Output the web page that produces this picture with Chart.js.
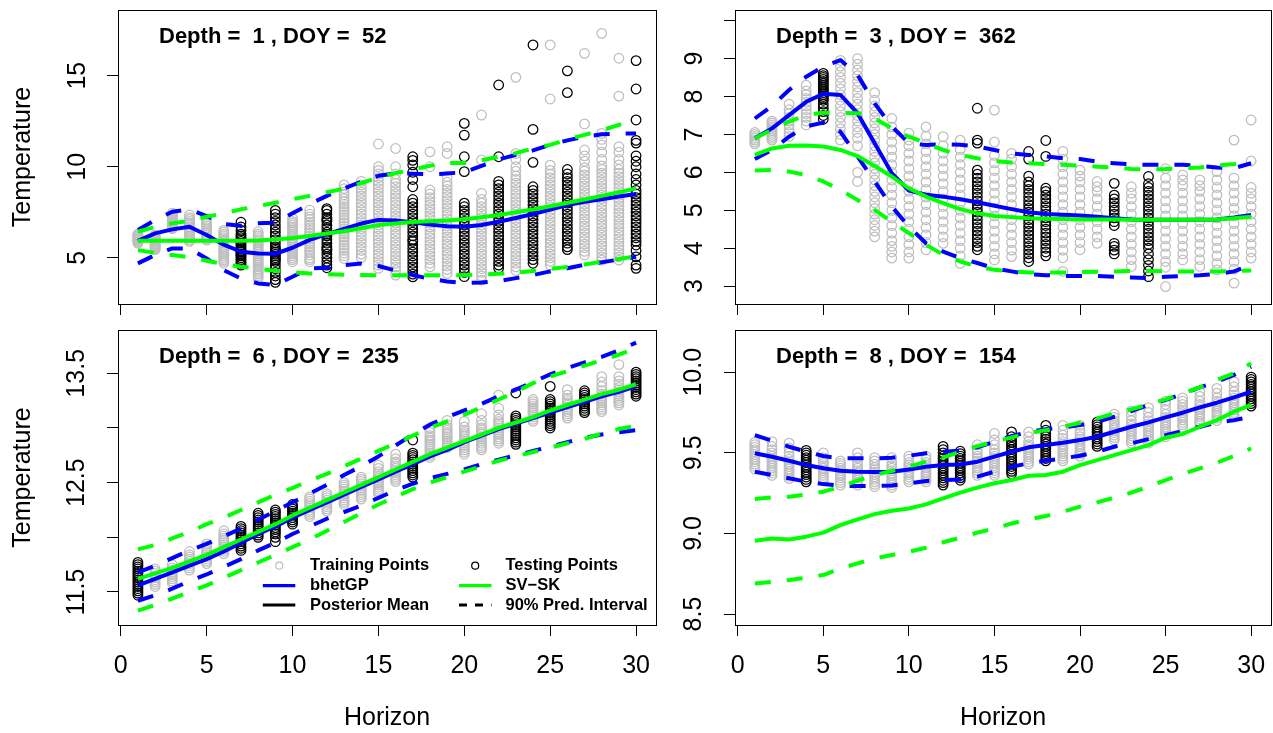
<!DOCTYPE html>
<html>
<head>
<meta charset="utf-8">
<script src="https://cdn.jsdelivr.net/npm/chart.js@4.4.1/dist/chart.umd.min.js"></script>
<style>
  html, body { margin: 0; padding: 0; background: #fff; }
  #wrap { position: relative; width: 1273px; height: 733px; overflow: hidden; background: #fff; }
  #wrap canvas { position: absolute; }
</style>
</head>
<body>
<div id="wrap">
  <canvas id="c1" width="662" height="318" style="left:0px;top:0px"></canvas>
  <canvas id="c2" width="611" height="318" style="left:662px;top:0px"></canvas>
  <canvas id="c3" width="662" height="415" style="left:0px;top:318px"></canvas>
  <canvas id="c4" width="611" height="415" style="left:662px;top:318px"></canvas>
</div>
<script>
// ---- shared axis data ----
const horizon = [1,2,3,4,5,6,7,8,9,10,11,12,13,14,15,16,17,18,19,20,21,22,23,24,25,26,27,28,29,30];
const xTicks = [0,5,10,15,20,25,30];
const xTickLabels = ['0','5','10','15','20','25','30'];
const legendLabels = ['Training Points','Testing Points','bhetGP','SV\u2212SK','Posterior Mean','90% Pred. Interval'];

// ---- panel 1: Depth 1, DOY 52 ----
const p1Title = 'Depth =  1 , DOY =  52';
const p1YTicks = [5,10,15];
const p1YLabels = ['5','10','15'];
const p1TrainH = [1,2,3,4,5,6,8,10,11,13,14,15,16,18,19,21,23,25,27,28,29];
const p1TrainY = [
  [5.8,5.85,5.9,5.95,6.0,6.05,6.1,6.15,6.2,6.25,6.3],
  [5.45,5.5,5.55,5.6,5.65,5.7,5.75,5.8,5.85,5.9,5.95,6.0,6.05,6.1,6.15,6.2,6.25],
  [6.6,6.65,6.7,6.75,6.8,6.85,6.9,6.95,7.0,7.05,7.1,7.15,7.2,7.25,7.3,7.35,7.45],
  [5.9,6.0,6.1,6.2,6.3,6.4,6.5,6.6,6.7,6.8,6.9,7.0,7.1,7.2,7.35],
  [5.97,6.05,6.15,6.25,6.35,6.45,6.55,6.65,6.75,6.85,6.95,7.07],
  [4.7,4.8,4.9,5.0,5.1,5.2,5.3,5.4,5.5,5.6,5.7,5.8,5.9,6.0,6.1,6.2,6.3,6.4,6.5],
  [3.86,4.0,4.1,4.2,4.3,4.4,4.5,4.6,4.7,4.8,4.9,5.0,5.1,5.2,5.3,5.4,5.5,5.6,5.7,5.8,5.9,6.0,6.1,6.2,6.3,6.43],
  [4.78,4.9,5.0,5.1,5.2,5.3,5.4,5.5,5.6,5.7,5.8,5.9,6.0,6.1,6.2,6.3,6.4,6.5,6.6,6.7,6.8,6.9,7.0,7.16],
  [4.78,4.9,5.0,5.15,5.3,5.45,5.6,5.75,5.9,6.05,6.2,6.35,6.5,6.65,6.8,6.95,7.1,7.25,7.4,7.62],
  [4.96,5.1,5.25,5.4,5.55,5.7,5.85,6.0,6.15,6.3,6.45,6.6,6.75,6.9,7.05,7.2,7.35,7.5,7.65,7.8,7.95,8.1,8.25,8.45,8.6,8.8,9.0],
  [5.0,5.2,5.4,5.6,5.8,6.0,6.2,6.4,6.6,6.8,7.0,7.2,7.4,7.6,7.8,8.0,8.2,8.4,8.6,8.8,9.0,9.2],
  [4.42,4.6,4.8,5.0,5.2,5.4,5.6,5.8,6.0,6.2,6.4,6.6,6.8,7.0,7.2,7.4,7.6,7.8,8.0,8.2,8.4,8.6,8.8,9.0,9.2,9.4,9.6,9.8,10.0,11.25],
  [4.05,4.3,4.5,4.7,4.9,5.1,5.3,5.5,5.7,5.9,6.1,6.3,6.5,6.7,6.9,7.1,7.3,7.5,7.7,7.9,8.1,8.3,8.5,8.7,8.9,9.1,9.3,9.6,10.0,11.0],
  [4.5,4.7,4.9,5.1,5.3,5.5,5.7,5.9,6.1,6.3,6.5,6.7,6.9,7.1,7.3,7.5,7.7,7.9,8.1,8.3,8.5,8.72,10.0,10.82],
  [4.14,4.35,4.55,4.75,4.95,5.15,5.35,5.55,5.75,5.95,6.15,6.35,6.55,6.75,6.95,7.15,7.35,7.55,7.75,7.95,8.15,8.35,8.55,8.75,8.95,9.15,9.45,10.73,11.1],
  [3.77,4.0,4.2,4.4,4.6,4.8,5.0,5.2,5.4,5.6,5.8,6.0,6.2,6.4,6.6,6.8,7.0,7.2,7.4,7.6,7.8,8.0,8.2,8.54,10.37,12.84],
  [4.3,4.5,4.7,4.9,5.1,5.3,5.5,5.7,5.9,6.1,6.3,6.5,6.7,6.9,7.1,7.3,7.5,7.7,7.9,8.1,8.3,8.5,8.7,8.9,9.1,9.3,9.5,9.75,10.0,10.4,10.73,14.91],
  [4.6,4.8,5.0,5.2,5.4,5.6,5.8,6.0,6.2,6.4,6.6,6.8,7.0,7.2,7.4,7.6,7.8,8.0,8.2,8.4,8.6,8.8,9.0,9.2,9.4,9.6,9.8,10.09,13.72,16.69],
  [5.15,5.35,5.55,5.75,5.95,6.15,6.35,6.55,6.75,6.95,7.15,7.35,7.55,7.75,7.95,8.15,8.35,8.55,8.75,8.95,9.15,9.35,9.55,9.75,9.95,10.3,10.6,10.92,12.35,16.23],
  [4.87,5.05,5.25,5.45,5.65,5.85,6.05,6.25,6.45,6.65,6.85,7.05,7.25,7.45,7.65,7.85,8.05,8.25,8.45,8.65,8.85,9.05,9.25,9.45,9.65,9.85,10.05,10.4,10.8,11.2,11.5,11.83,17.33],
  [4.87,5.05,5.25,5.45,5.65,5.85,6.05,6.25,6.45,6.65,6.85,7.05,7.25,7.45,7.65,7.85,8.05,8.25,8.45,8.65,8.85,9.05,9.25,9.45,9.65,9.85,10.1,10.4,10.8,11.1,13.88,15.96]
];
const p1TestH = [7,9,12,17,20,22,24,26,30];
const p1TestY = [
  [4.6,4.7,4.8,4.9,5.0,5.1,5.15,5.2,5.3,5.35,5.4,5.5,5.6,5.7,5.8,5.9,6.0,6.1,6.2,6.3,6.5,6.7,6.95],
  [3.65,3.8,4.0,4.2,4.4,4.6,4.8,4.9,5.0,5.1,5.2,5.3,5.4,5.5,5.6,5.8,6.0,6.2,6.4,6.6,6.8,7.0,7.2,7.4,7.6],
  [4.45,4.6,4.8,5.0,5.2,5.4,5.5,5.6,5.8,6.0,6.2,6.3,6.4,6.6,6.8,7.0,7.1,7.2,7.4,7.6,7.7],
  [3.95,4.1,4.3,4.5,4.7,4.9,5.1,5.3,5.5,5.7,5.9,6.0,6.2,6.4,6.6,6.8,7.0,7.2,7.4,7.6,7.8,8.0,8.2,8.9,9.3,9.7,10.1,10.35,10.55],
  [3.96,4.2,4.4,4.6,4.8,5.0,5.2,5.4,5.6,5.8,6.0,6.2,6.4,6.6,6.8,7.0,7.2,7.4,7.6,7.8,8.0,9.73,10.55,11.74,12.38],
  [4.42,4.6,4.8,5.0,5.2,5.4,5.6,5.8,6.0,6.2,6.4,6.6,6.8,7.0,7.2,7.4,7.6,7.8,8.0,8.2,8.4,8.6,8.8,9.0,9.2,10.55,14.49],
  [4.7,4.9,5.1,5.3,5.5,5.7,5.9,6.1,6.3,6.5,6.7,6.9,7.1,7.3,7.5,7.7,7.9,8.1,8.3,8.5,8.7,8.9,10.24,12.05,16.69],
  [5.45,5.6,5.8,6.0,6.2,6.4,6.6,6.8,7.0,7.2,7.4,7.6,7.8,8.0,8.2,8.4,8.6,8.8,9.0,9.2,9.4,9.6,9.85,14.07,15.27],
  [4.42,4.6,5.05,5.4,5.7,5.9,6.1,6.3,6.5,6.7,6.9,7.1,7.3,7.5,7.7,7.9,8.1,8.3,8.5,8.7,9.0,9.3,9.6,10.0,10.3,10.6,11.3,11.45,12.57,14.27,15.83]
];
const p1BhMean = [5.93,6.34,6.56,6.70,6.25,5.72,5.33,5.24,5.22,5.55,5.98,6.30,6.58,6.88,7.08,7.05,6.95,6.82,6.73,6.70,6.80,6.98,7.18,7.40,7.65,7.90,8.07,8.21,8.36,8.50];
const p1BhHi = [6.52,7.07,7.53,7.66,7.29,6.85,6.76,6.89,6.92,7.44,7.95,8.40,8.80,9.18,9.50,9.64,9.62,9.58,9.63,9.70,10.05,10.40,10.65,10.90,11.20,11.45,11.65,11.78,11.83,11.83];
const p1BhLo = [4.69,5.15,5.51,5.51,4.96,4.32,3.86,3.59,3.50,3.96,4.41,4.45,4.60,4.68,4.55,4.30,4.05,3.84,3.70,3.62,3.64,3.72,3.88,4.05,4.25,4.42,4.62,4.75,4.90,5.06];
const p1SvMean = [5.93,5.93,5.93,5.93,5.93,5.93,5.93,5.95,6.00,6.08,6.20,6.33,6.46,6.62,6.80,6.88,6.96,7.01,7.05,7.11,7.22,7.35,7.50,7.65,7.83,8.02,8.20,8.40,8.60,8.81];
const p1SvHi = [6.43,6.70,6.89,7.03,7.25,7.44,7.66,7.84,8.02,8.22,8.40,8.60,8.80,9.10,9.40,9.65,9.85,10.05,10.20,10.20,10.35,10.55,10.75,11.00,11.20,11.50,11.75,12.00,12.30,12.62];
const p1SvLo = [5.42,5.27,5.15,5.02,4.84,4.65,4.51,4.40,4.29,4.21,4.14,4.10,4.07,4.05,4.04,4.04,4.04,4.04,4.04,4.05,4.08,4.12,4.18,4.27,4.38,4.50,4.63,4.78,4.93,5.08];

// ---- panel 2: Depth 3, DOY 362 ----
const p2Title = 'Depth =  3 , DOY =  362';
const p2YTicks = [3,4,5,6,7,8,9,10];
const p2YLabels = ['3','4','5','6','7','8','9',''];
const p2TrainH = [1,2,3,4,6,7,8,9,10,11,12,13,15,16,19,20,21,23,25,26,27,28,29,30];
const p2TrainY = [
  [6.75,6.8,6.85,6.9,6.95,7.0,7.05],
  [6.85,6.9,6.95,7.0,7.05,7.1,7.15,7.2,7.25,7.3,7.35],
  [6.95,7.05,7.15,7.25,7.35,7.45,7.55,7.65,7.8],
  [7.25,7.35,7.45,7.55,7.65,7.75,7.85,7.95,8.05,8.15,8.3],
  [6.85,7.0,7.15,7.3,7.45,7.6,7.75,7.9,8.05,8.2,8.35,8.5,8.65,8.8,8.95],
  [5.76,6.0,6.7,6.9,7.05,7.2,7.35,7.5,7.65,7.8,7.95,8.1,8.25,8.4,8.55,8.7,8.85,9.0],
  [4.3,4.45,4.6,4.75,4.9,5.05,5.2,5.35,5.5,5.65,5.8,5.95,6.1,6.25,6.4,6.55,6.7,6.85,7.0,7.15,7.3,7.45,7.6,7.75,7.9,8.1],
  [3.74,3.9,4.05,4.2,4.4,4.6,4.8,5.0,5.2,5.4,5.6,5.8,6.0,6.2,6.4,6.6,6.8,7.0,7.2,7.42],
  [3.74,3.9,4.1,4.3,4.5,4.7,4.9,5.1,5.3,5.5,5.7,5.9,6.1,6.3,6.5,6.7,6.85,7.03],
  [3.96,4.15,4.35,4.55,4.75,4.95,5.15,5.35,5.55,5.75,5.95,6.15,6.35,6.55,6.75,6.95,7.2],
  [4.13,4.3,4.5,4.7,4.9,5.1,5.3,5.5,5.7,5.9,6.1,6.3,6.5,6.7,6.94],
  [3.6,3.8,4.0,4.2,4.4,4.6,4.8,5.0,5.2,5.4,5.6,5.8,6.0,6.2,6.4,6.6,6.85],
  [3.69,3.85,4.05,4.25,4.45,4.65,4.85,5.05,5.25,5.45,5.65,5.85,6.05,6.25,6.45,6.8,7.64],
  [3.78,3.95,4.15,4.35,4.55,4.75,4.95,5.15,5.35,5.55,5.75,5.95,6.15,6.35,6.5],
  [3.39,3.75,3.95,4.15,4.35,4.55,4.75,4.95,5.15,5.35,5.55,5.75,5.95,6.15,6.35,6.55],
  [3.96,4.15,4.35,4.55,4.75,4.95,5.15,5.35,5.55,5.75,5.9,6.06],
  [4.13,4.3,4.5,4.7,4.9,5.1,5.3,5.5,5.62,5.76],
  [3.52,3.7,3.9,4.1,4.3,4.5,4.7,4.9,5.1,5.3,5.45,5.62],
  [2.99,3.5,3.65,3.85,4.05,4.25,4.45,4.65,4.85,5.05,5.25,5.45,5.65,5.85,6.1],
  [3.69,3.85,4.05,4.25,4.45,4.65,4.85,5.05,5.25,5.45,5.65,5.8,5.93],
  [3.52,3.7,3.9,4.1,4.3,4.5,4.7,4.9,5.1,5.3,5.5,5.65,5.8],
  [3.43,3.6,3.8,4.0,4.2,4.4,4.6,4.8,5.0,5.2,5.4,5.6,5.8,6.02],
  [3.08,3.45,3.65,3.85,4.05,4.25,4.45,4.65,4.85,5.05,5.25,5.45,5.65,5.85,6.85],
  [3.74,3.9,4.1,4.3,4.5,4.7,4.9,5.1,5.3,5.45,5.6,6.3,7.38]
];
const p2TestH = [5,14,17,18,22,24];
const p2TestY = [
  [7.4,7.5,7.6,7.7,7.8,7.9,7.95,8.0,8.05,8.1,8.15,8.2,8.25,8.3,8.35,8.4,8.45,8.5,8.55,8.61],
  [3.96,4.05,4.15,4.25,4.35,4.45,4.55,4.65,4.75,4.85,4.95,5.05,5.15,5.25,5.35,5.45,5.55,5.65,5.75,5.85,5.95,6.06,6.77,6.85,7.69],
  [3.65,3.75,3.85,3.95,4.05,4.15,4.25,4.35,4.45,4.55,4.65,4.75,4.85,4.95,5.05,5.15,5.25,5.35,5.45,5.55,5.65,5.75,5.9,6.35,6.55],
  [3.8,3.9,4.0,4.1,4.2,4.3,4.4,4.5,4.6,4.7,4.8,4.9,5.0,5.1,5.2,5.3,5.4,5.5,5.58,6.42,6.84],
  [3.85,3.95,4.05,4.13,4.6,4.7,4.8,4.9,5.0,5.1,5.2,5.3,5.4,5.71],
  [3.25,3.4,3.55,3.7,3.85,4.0,4.1,4.2,4.3,4.4,4.5,4.6,4.7,4.8,4.9,5.0,5.1,5.2,5.3,5.4,5.5,5.6,5.7,5.89]
];
const p2BhMean = [6.90,7.16,7.51,7.86,8.07,8.04,7.56,6.77,5.98,5.52,5.41,5.36,5.29,5.21,5.12,5.03,4.95,4.90,4.88,4.86,4.83,4.79,4.76,4.75,4.75,4.75,4.75,4.76,4.81,4.88];
const p2BhHi = [7.42,7.75,8.17,8.52,8.79,8.96,8.57,7.82,7.21,6.77,6.72,6.74,6.73,6.68,6.59,6.50,6.46,6.42,6.37,6.35,6.28,6.24,6.21,6.20,6.20,6.20,6.17,6.13,6.11,6.24];
const p2BhLo = [6.35,6.59,6.94,7.21,7.31,7.07,6.42,5.76,5.10,4.57,4.13,3.91,3.74,3.61,3.47,3.39,3.32,3.29,3.27,3.27,3.27,3.25,3.23,3.21,3.25,3.27,3.29,3.32,3.39,3.56];
const p2SvMean = [6.46,6.63,6.70,6.71,6.68,6.59,6.43,6.17,5.89,5.58,5.36,5.19,5.03,4.92,4.85,4.82,4.79,4.78,4.77,4.76,4.76,4.76,4.75,4.75,4.75,4.75,4.75,4.76,4.79,4.83];
const p2SvHi = [6.90,7.12,7.34,7.51,7.57,7.57,7.56,7.42,7.16,6.94,6.77,6.59,6.46,6.37,6.30,6.26,6.24,6.22,6.20,6.18,6.15,6.13,6.09,6.08,6.09,6.11,6.13,6.18,6.22,6.28];
const p2SvLo = [6.05,6.06,6.02,5.93,5.76,5.54,5.27,5.01,4.70,4.40,4.09,3.83,3.65,3.52,3.43,3.39,3.36,3.36,3.36,3.37,3.38,3.39,3.40,3.40,3.39,3.39,3.39,3.39,3.40,3.41];

// ---- panel 3: Depth 6, DOY 235 ----
const p3Title = 'Depth =  6 , DOY =  235';
const p3YTicks = [11.5,12,12.5,13,13.5];
const p3YLabels = ['11.5','','12.5','','13.5'];
const p3TrainH = [2,3,4,5,6,11,12,13,14,15,16,18,19,20,21,22,24,26,28,29];
const p3TrainY = [
  [11.55,11.57,11.59,11.61,11.63,11.65,11.67,11.69,11.71],
  [11.58,11.6,11.62,11.64,11.66,11.68,11.7,11.72,11.75],
  [11.7,11.72,11.74,11.76,11.78,11.8,11.82,11.84,11.87],
  [11.76,11.78,11.8,11.82,11.84,11.86,11.88,11.9,11.92,11.94],
  [11.85,11.87,11.89,11.91,11.93,11.95,11.97,11.99,12.01,12.03,12.06],
  [12.19,12.21,12.23,12.25,12.27,12.29,12.31,12.33,12.35,12.37],
  [12.24,12.26,12.28,12.3,12.32,12.34,12.36,12.38,12.4],
  [12.3,12.32,12.34,12.36,12.38,12.4,12.42,12.44,12.46,12.48,12.5],
  [12.35,12.37,12.39,12.41,12.43,12.45,12.47,12.49,12.51,12.53,12.55],
  [12.4,12.42,12.44,12.46,12.48,12.5,12.52,12.54,12.56,12.58,12.6,12.63,12.66],
  [12.51,12.53,12.55,12.57,12.59,12.61,12.63,12.65,12.67,12.69,12.72,12.76],
  [12.73,12.75,12.77,12.79,12.81,12.83,12.85,12.87,12.89,12.91,12.93,12.96,13.0],
  [12.82,12.84,12.86,12.88,12.9,12.92,12.94,12.96,12.98,13.0,13.03,13.07],
  [12.76,12.78,12.8,12.82,12.84,12.86,12.88,12.9,12.92,12.94,12.96,12.98,13.01,13.06],
  [12.8,12.82,12.84,12.86,12.88,12.9,12.92,12.94,12.96,12.98,13.0,13.03,13.07,13.13],
  [12.86,12.88,12.9,12.92,12.94,12.96,12.98,13.0,13.02,13.04,13.06,13.08,13.12,13.18,13.3],
  [13.06,13.08,13.1,13.12,13.14,13.16,13.18,13.2,13.22,13.24,13.26],
  [13.09,13.11,13.13,13.15,13.17,13.19,13.21,13.23,13.25,13.27,13.3,13.35],
  [13.15,13.17,13.19,13.21,13.23,13.25,13.27,13.29,13.31,13.34,13.38,13.42,13.47],
  [13.21,13.23,13.25,13.27,13.29,13.31,13.33,13.35,13.37,13.4,13.43,13.47,13.58]
];
const p3TestH = [1,7,8,9,10,17,23,25,27,30];
const p3TestY = [
  [11.47,11.49,11.51,11.53,11.55,11.57,11.59,11.61,11.63,11.65,11.67,11.69,11.71,11.73,11.75,11.77],
  [11.88,11.9,11.92,11.94,11.96,11.98,12.0,12.02,12.04,12.06,12.08,12.1],
  [12.0,12.02,12.04,12.06,12.08,12.1,12.12,12.14,12.16,12.18,12.2,12.22],
  [11.96,12.0,12.03,12.05,12.07,12.09,12.11,12.13,12.15,12.17,12.19,12.21,12.23,12.25],
  [12.12,12.14,12.16,12.18,12.2,12.22,12.24,12.26,12.28,12.3],
  [12.55,12.57,12.59,12.61,12.63,12.65,12.67,12.69,12.71,12.73,12.75,12.77,12.89],
  [12.85,12.87,12.89,12.91,12.93,12.95,12.97,12.99,13.01,13.03,13.05,13.07,13.09,13.11,13.32],
  [13.0,13.02,13.04,13.06,13.08,13.1,13.12,13.14,13.16,13.18,13.2,13.22,13.24,13.26,13.38],
  [13.14,13.16,13.18,13.2,13.22,13.24,13.26,13.28,13.3,13.32,13.34],
  [13.29,13.31,13.33,13.35,13.37,13.39,13.41,13.43,13.45,13.47,13.49,13.51]
];
const p3BhMean = [11.56,11.62,11.68,11.74,11.80,11.87,11.95,12.03,12.10,12.18,12.25,12.32,12.39,12.46,12.53,12.60,12.67,12.74,12.80,12.87,12.93,12.99,13.04,13.09,13.14,13.19,13.24,13.29,13.33,13.38];
const p3BhHi = [11.68,11.74,11.81,11.88,11.94,12.01,12.08,12.16,12.24,12.32,12.40,12.48,12.57,12.65,12.74,12.84,12.94,13.03,13.10,13.16,13.22,13.29,13.35,13.42,13.49,13.55,13.60,13.65,13.71,13.78];
const p3BhLo = [11.42,11.47,11.53,11.60,11.66,11.73,11.80,11.88,11.95,12.03,12.10,12.17,12.23,12.29,12.36,12.43,12.49,12.54,12.58,12.62,12.67,12.71,12.75,12.79,12.83,12.87,12.91,12.94,12.96,12.98];
const p3SvMean = [11.62,11.67,11.72,11.78,11.84,11.91,11.98,12.05,12.12,12.20,12.27,12.34,12.41,12.48,12.55,12.62,12.69,12.76,12.82,12.88,12.94,13.00,13.05,13.10,13.16,13.21,13.26,13.31,13.35,13.40];
const p3SvHi = [11.89,11.93,11.99,12.05,12.12,12.18,12.25,12.32,12.39,12.45,12.52,12.58,12.65,12.72,12.79,12.86,12.93,13.00,13.06,13.12,13.19,13.26,13.33,13.41,13.47,13.52,13.57,13.62,13.67,13.73];
const p3SvLo = [11.33,11.38,11.44,11.50,11.56,11.63,11.70,11.77,11.84,11.91,11.98,12.06,12.14,12.22,12.30,12.37,12.44,12.50,12.55,12.60,12.65,12.70,12.74,12.78,12.82,12.86,12.90,12.95,12.99,13.02];

// ---- panel 4: Depth 8, DOY 154 ----
const p4Title = 'Depth =  8 , DOY =  154';
const p4YTicks = [8.5,9,9.5,10];
const p4YLabels = ['8.5','9.0','9.5','10.0'];
const p4TrainH = [1,2,3,5,6,7,8,9,10,11,14,15,17,19,20,22,23,24,25,26,27,28,29];
const p4TrainY = [
  [9.4,9.415,9.43,9.445,9.46,9.475,9.49,9.505,9.52,9.535,9.55,9.565],
  [9.36,9.375,9.39,9.405,9.42,9.435,9.45,9.465,9.48,9.5,9.52,9.54,9.57],
  [9.34,9.355,9.37,9.385,9.4,9.415,9.43,9.445,9.46,9.48,9.5,9.53,9.56],
  [9.33,9.345,9.36,9.375,9.39,9.405,9.42,9.435,9.45,9.47,9.5],
  [9.3,9.315,9.33,9.345,9.36,9.375,9.39,9.405,9.42,9.435,9.45],
  [9.3,9.315,9.33,9.345,9.36,9.375,9.39,9.405,9.42,9.44,9.47,9.5],
  [9.29,9.305,9.32,9.335,9.35,9.365,9.38,9.395,9.41,9.43,9.45,9.47],
  [9.285,9.3,9.315,9.33,9.345,9.36,9.375,9.39,9.405,9.42,9.44,9.47],
  [9.32,9.335,9.35,9.365,9.38,9.395,9.41,9.425,9.44,9.46,9.48],
  [9.32,9.335,9.35,9.365,9.38,9.395,9.41,9.425,9.44,9.46,9.48],
  [9.36,9.375,9.39,9.405,9.42,9.435,9.45,9.465,9.48,9.5,9.52,9.55],
  [9.36,9.375,9.39,9.405,9.42,9.435,9.45,9.465,9.48,9.5,9.52,9.55,9.58,9.62],
  [9.43,9.445,9.46,9.475,9.49,9.505,9.52,9.535,9.55,9.57,9.6,9.63],
  [9.45,9.465,9.48,9.495,9.51,9.525,9.54,9.555,9.57,9.59,9.61,9.64,9.67],
  [9.48,9.495,9.51,9.525,9.54,9.555,9.57,9.585,9.6,9.62,9.64,9.67],
  [9.58,9.595,9.61,9.625,9.64,9.655,9.67,9.685,9.7,9.72,9.74],
  [9.56,9.575,9.59,9.605,9.62,9.635,9.65,9.665,9.68,9.7,9.73,9.76],
  [9.56,9.575,9.59,9.605,9.62,9.635,9.65,9.665,9.68,9.7,9.72,9.75,9.78],
  [9.6,9.615,9.63,9.645,9.66,9.675,9.69,9.705,9.72,9.74,9.77,9.8,9.82],
  [9.66,9.675,9.69,9.705,9.72,9.735,9.75,9.765,9.78,9.8,9.82,9.84],
  [9.68,9.695,9.71,9.725,9.74,9.755,9.77,9.785,9.8,9.82,9.85,9.88],
  [9.7,9.715,9.73,9.745,9.76,9.775,9.79,9.805,9.82,9.84,9.87,9.9],
  [9.72,9.735,9.75,9.765,9.78,9.795,9.81,9.825,9.84,9.86,9.88,9.91,9.94]
];
const p4TestH = [4,12,13,16,18,21,30];
const p4TestY = [
  [9.32,9.335,9.35,9.365,9.38,9.395,9.41,9.425,9.44,9.455,9.47,9.485,9.5,9.515],
  [9.3,9.315,9.33,9.345,9.36,9.375,9.39,9.405,9.42,9.435,9.45,9.465,9.48,9.5,9.52,9.54],
  [9.33,9.345,9.36,9.375,9.39,9.405,9.42,9.435,9.45,9.465,9.48,9.495,9.51],
  [9.37,9.385,9.4,9.415,9.43,9.445,9.46,9.475,9.49,9.505,9.52,9.535,9.55,9.565,9.58,9.6,9.63],
  [9.45,9.465,9.48,9.495,9.51,9.525,9.54,9.555,9.57,9.585,9.6,9.62,9.64,9.67],
  [9.54,9.555,9.57,9.585,9.6,9.615,9.63,9.645,9.66,9.675,9.69],
  [9.79,9.805,9.82,9.835,9.85,9.865,9.88,9.895,9.91,9.925,9.94,9.955,9.97]
];
const p4BhMean = [9.497,9.476,9.451,9.424,9.404,9.389,9.383,9.381,9.383,9.397,9.414,9.424,9.428,9.445,9.476,9.507,9.534,9.548,9.563,9.579,9.600,9.631,9.662,9.689,9.720,9.749,9.782,9.811,9.844,9.879];
const p4BhHi = [9.61,9.575,9.538,9.507,9.48,9.466,9.466,9.466,9.47,9.482,9.497,9.507,9.513,9.534,9.569,9.604,9.629,9.646,9.658,9.672,9.693,9.724,9.759,9.797,9.828,9.865,9.906,9.941,9.983,10.034];
const p4BhLo = [9.383,9.362,9.342,9.321,9.306,9.296,9.294,9.294,9.298,9.311,9.325,9.331,9.335,9.352,9.383,9.414,9.435,9.451,9.466,9.482,9.507,9.538,9.559,9.585,9.610,9.636,9.662,9.687,9.703,9.724];
const p4SvMean = [8.955,8.969,8.963,8.98,9.005,9.052,9.087,9.12,9.141,9.155,9.18,9.218,9.253,9.284,9.311,9.331,9.358,9.362,9.383,9.424,9.455,9.486,9.517,9.548,9.594,9.617,9.662,9.703,9.755,9.797];
const p4SvHi = [9.213,9.224,9.228,9.242,9.259,9.29,9.327,9.362,9.387,9.414,9.445,9.47,9.507,9.542,9.569,9.596,9.621,9.641,9.662,9.687,9.714,9.745,9.77,9.801,9.832,9.869,9.906,9.952,9.993,10.055];
const p4SvLo = [8.69,8.70,8.711,8.725,8.742,8.783,8.814,8.845,8.866,8.887,8.911,8.945,8.974,9.005,9.031,9.062,9.087,9.108,9.135,9.166,9.193,9.222,9.253,9.29,9.331,9.368,9.404,9.439,9.48,9.528];

// ---- styling ----
const FONT = '"Liberation Sans", Arial, Helvetica, sans-serif';
Chart.defaults.font.family = FONT;
Chart.defaults.color = '#000';
const GRAY = '#BEBEBE', BLACK = '#000000', BLUE = '#0000FF', GREEN = '#00FF00';
const DASH = [16, 16];

function pts(hs, cols) {
  const out = [];
  hs.forEach((h, i) => cols[i].forEach(v => out.push({x: h, y: v})));
  return out;
}
function path(vals) { return horizon.map((h, i) => ({x: h, y: vals[i]})); }

function lineSet(vals, color, dashed, order) {
  return { data: path(vals), showLine: true, borderColor: color, borderWidth: 4,
    borderDash: dashed ? DASH : [], borderCapStyle: 'butt', borderJoinStyle: 'round',
    pointRadius: 0, pointHoverRadius: 0, tension: 0, fill: false, order };
}
function pointSet(hs, cols, color, order) {
  return { data: pts(hs, cols), showLine: false, pointStyle: 'circle', pointRadius: 4.8,
    pointHoverRadius: 4.8, pointBorderWidth: 1.25, pointBorderColor: color,
    pointBackgroundColor: 'rgba(0,0,0,0)', order };
}

// box, panel title and (optionally) legend, drawn like base R
const rPanel = {
  id: 'rPanel',
  afterDatasetsDraw(chart, args, opts) {
    const {ctx, chartArea: a} = chart;
    ctx.save();
    ctx.strokeStyle = '#000';
    ctx.lineWidth = 1;
    ctx.strokeRect(a.left + 0.5, a.top + 0.5, a.right - a.left, a.bottom - a.top);
    ctx.fillStyle = '#000';
    ctx.textBaseline = 'middle';
    ctx.textAlign = 'left';
    ctx.font = 'bold 22px ' + FONT;
    ctx.fillText(opts.title, a.left + 41, a.top + 27);
    if (opts.legend) {
      const rows = [a.bottom - 59.3, a.bottom - 39.3, a.bottom - 20];
      const c1 = a.left + 144.8, c2 = a.left + 341;
      ctx.font = 'bold 16.5px ' + FONT;
      ctx.lineWidth = 1.2;
      ctx.strokeStyle = GRAY;
      ctx.beginPath(); ctx.arc(c1 + 16.5, rows[0], 3.5, 0, Math.PI * 2); ctx.stroke();
      ctx.strokeStyle = BLACK;
      ctx.beginPath(); ctx.arc(c2 + 16.2, rows[0], 3.5, 0, Math.PI * 2); ctx.stroke();
      const seg = (x, y, color, dash) => {
        ctx.setLineDash(dash); ctx.strokeStyle = color; ctx.lineWidth = 3.2;
        ctx.beginPath(); ctx.moveTo(x, y); ctx.lineTo(x + 32.5, y); ctx.stroke();
      };
      seg(c1, rows[1], BLUE, []);
      seg(c2, rows[1], GREEN, []);
      seg(c1, rows[2], BLACK, []);
      seg(c2, rows[2], BLACK, [8, 8]);
      ctx.setLineDash([]);
      for (let r = 0; r < 3; r++) {
        ctx.fillText(legendLabels[r * 2], a.left + 192, rows[r]);
        ctx.fillText(legendLabels[r * 2 + 1], a.left + 387.5, rows[r]);
      }
    }
    ctx.restore();
  }
};

function panel(id, p) {
  const zeroPad = s => { s.paddingTop = 0; s.paddingBottom = 0; s.paddingLeft = 0; s.paddingRight = 0; };
  new Chart(document.getElementById(id), {
    type: 'scatter',
    data: { datasets: [
      lineSet(p.svHi, GREEN, true, 1), lineSet(p.svLo, GREEN, true, 1), lineSet(p.svMean, GREEN, false, 1),
      lineSet(p.bhHi, BLUE, true, 2), lineSet(p.bhLo, BLUE, true, 2), lineSet(p.bhMean, BLUE, false, 2),
      pointSet(p.testH, p.testY, BLACK, 3),
      pointSet(p.trainH, p.trainY, GRAY, 4)
    ]},
    options: {
      responsive: false, animation: false, devicePixelRatio: 1, events: [],
      layout: { autoPadding: false, padding: { left: 0, right: p.padR, top: p.padT, bottom: 0 } },
      plugins: { legend: { display: false }, tooltip: { enabled: false },
        rPanel: { title: p.title, legend: p.legend } },
      scales: {
        x: {
          type: 'linear', min: -0.16, max: 31.16,
          afterBuildTicks: s => { s.ticks = xTicks.map(v => ({value: v})); },
          afterFit: s => { s.height = p.xH; zeroPad(s); },
          grid: { drawOnChartArea: false, drawTicks: true, tickLength: 11, color: '#000', lineWidth: 1 },
          border: { display: true, color: '#000', width: 1 },
          ticks: { display: p.showX, autoSkip: false, minRotation: 0, maxRotation: 0, padding: 15,
            color: '#000', font: { size: 25 }, callback: (v, i) => xTickLabels[i] },
          title: { display: p.showX, text: 'Horizon', color: '#000', font: { size: 25 },
            padding: { top: 0, bottom: 0 } }
        },
        y: {
          type: 'linear', min: p.yMin, max: p.yMax,
          afterBuildTicks: s => { s.ticks = p.yTicks.map(v => ({value: v})); },
          afterFit: s => { s.width = p.yW; zeroPad(s); },
          grid: { drawOnChartArea: false, drawTicks: true, tickLength: 11, color: '#000', lineWidth: 1 },
          border: { display: true, color: '#000', width: 1 },
          ticks: { autoSkip: false, minRotation: 90, maxRotation: 90, crossAlign: 'center',
            padding: p.yPad, color: '#000', font: { size: 25 }, callback: (v, i) => p.yLabels[i] },
          title: { display: p.showY, text: 'Temperature', color: '#000', font: { size: 25 },
            padding: { top: 8, bottom: 0 } }
        }
      }
    },
    plugins: [rPanel]
  });
}

panel('c1', { title: p1Title, trainH: p1TrainH, trainY: p1TrainY, testH: p1TestH, testY: p1TestY,
  bhMean: p1BhMean, bhHi: p1BhHi, bhLo: p1BhLo, svMean: p1SvMean, svHi: p1SvHi, svLo: p1SvLo,
  yMin: 2.46, yMax: 18.61, yTicks: p1YTicks, yLabels: p1YLabels, yPad: 15,
  yW: 118, xH: 14, padT: 10, padR: 6, showX: false, showY: true, legend: false });

panel('c2', { title: p2Title, trainH: p2TrainH, trainY: p2TrainY, testH: p2TestH, testY: p2TestY,
  bhMean: p2BhMean, bhHi: p2BhHi, bhLo: p2BhLo, svMean: p2SvMean, svHi: p2SvHi, svLo: p2SvLo,
  yMin: 2.53, yMax: 10.28, yTicks: p2YTicks, yLabels: p2YLabels, yPad: 22,
  yW: 73, xH: 14, padT: 10, padR: 2, showX: false, showY: false, legend: false });

panel('c3', { title: p3Title, trainH: p3TrainH, trainY: p3TrainY, testH: p3TestH, testY: p3TestY,
  bhMean: p3BhMean, bhHi: p3BhHi, bhLo: p3BhLo, svMean: p3SvMean, svHi: p3SvHi, svLo: p3SvLo,
  yMin: 11.198, yMax: 13.896, yTicks: p3YTicks, yLabels: p3YLabels, yPad: 6,
  yW: 118, xH: 108, padT: 12, padR: 6, showX: true, showY: true, legend: true });

panel('c4', { title: p4Title, trainH: p4TrainH, trainY: p4TrainY, testH: p4TestH, testY: p4TestY,
  bhMean: p4BhMean, bhHi: p4BhHi, bhLo: p4BhLo, svMean: p4SvMean, svHi: p4SvHi, svLo: p4SvLo,
  yMin: 8.432, yMax: 10.262, yTicks: p4YTicks, yLabels: p4YLabels, yPad: 6,
  yW: 73, xH: 108, padT: 12, padR: 2, showX: true, showY: false, legend: false });
</script>
</body>
</html>
